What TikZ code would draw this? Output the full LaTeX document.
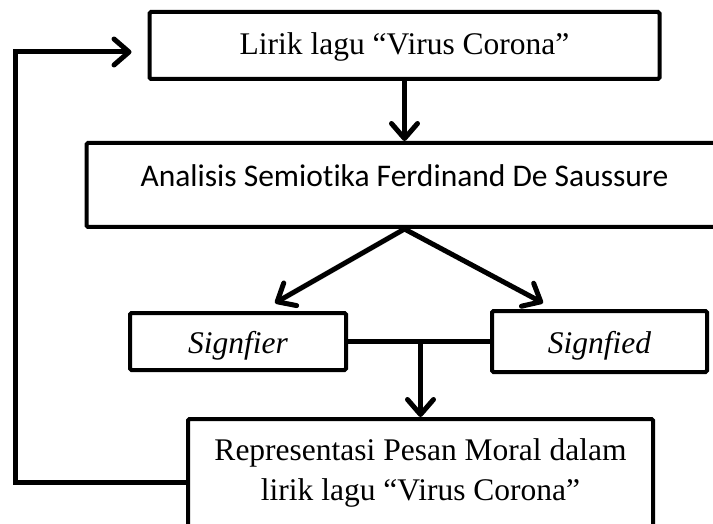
\documentclass[tikz,border=0pt]{standalone}
\usepackage{fontspec}
\setmainfont{Liberation Serif}
\newfontfamily\calibrifont[Ligatures=NoCommon]{Carlito}
\usetikzlibrary{arrows.meta, positioning, calc}

\begin{document}
\begin{tikzpicture}[
    x=1pt, y=-1pt,
    every node/.style={font=\fontsize{31.5}{40}\selectfont},
    box/.style={rectangle, draw, line width=4pt, rounded corners=1.5pt, inner sep=0pt},
    sign/.style={box, minimum width=216pt, font=\fontsize{31.5}{40}\selectfont\itshape},
    link/.style={line width=5pt},
    arrow/.style={line width=5pt, -{Straight Barb[length=15pt, width=26pt, round]}}
]
    \useasboundingbox (0,0) rectangle (713,524);

    \node[box, minimum width=510pt, text height=43pt, text depth=24pt] (lirik) at (404.5,45.5) {Lirik lagu “Virus Corona”};
    \node[box, minimum width=636pt, text height=44pt, text depth=40pt, font=\calibrifont\fontsize{31.5}{40}\selectfont, below=60pt of lirik] (analisis) {Analisis Semiotika Ferdinand De Saussure};

    \node[sign, text height=40pt, text depth=17pt] (signfier) at (238,341.5) {Signfier};
    \node[sign, minimum width=215pt, text height=42pt, text depth=19pt, right=142pt of signfier] (signfied) {Signfied};

    \node[box, minimum width=465pt, minimum height=107.5pt, align=center] (repr) at (420.5,472.75) {Representasi Pesan Moral dalam\\lirik lagu “Virus Corona”};

    \coordinate (tipL) at (275,303);
    \coordinate (tipR) at (543,303);

    \draw[arrow] (lirik) -- (analisis);
    \draw[arrow] (analisis.south) -- (tipL);
    \draw[arrow] (analisis.south) -- (tipR);

    \draw[link] (signfier) -- (signfied);
    \draw[arrow] (signfier.east -| repr.north) -- (repr.north);

    % balik lagi ke lirik
    \draw[arrow] ([yshift=-10pt]repr.west) -- ++(-171,0) |- ([xshift=-16pt,yshift=-6.5pt]lirik.west);
\end{tikzpicture}
\end{document}
